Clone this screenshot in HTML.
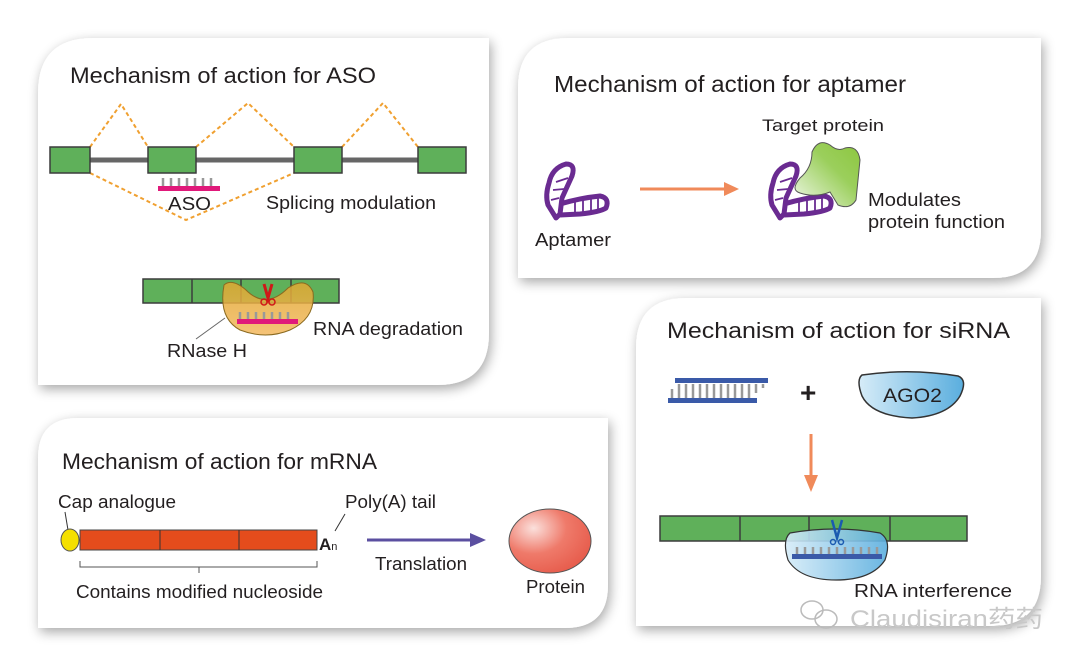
<!DOCTYPE html>
<html><head><meta charset="utf-8"><style>
html,body{margin:0;padding:0;background:#fff}
svg{display:block}
text{font-family:"Liberation Sans","Noto Sans CJK SC",sans-serif;fill:#231f20}
</style></head><body>
<svg width="1080" height="664" viewBox="0 0 1080 664" xmlns="http://www.w3.org/2000/svg">
<defs>
<filter id="sh" x="-10%" y="-10%" width="120%" height="125%"><feGaussianBlur in="SourceAlpha" stdDeviation="6"/><feOffset dx="2" dy="4"/><feComponentTransfer><feFuncA type="linear" slope="0.35"/></feComponentTransfer><feMerge><feMergeNode/><feMergeNode in="SourceGraphic"/></feMerge></filter>
<linearGradient id="og" x1="0" y1="0" x2="0" y2="1"><stop offset="0" stop-color="#e0a830"/><stop offset="1" stop-color="#f3b860"/></linearGradient>
<linearGradient id="bg" x1="0" y1="0" x2="1" y2="0"><stop offset="0" stop-color="#d6ecf8"/><stop offset="1" stop-color="#5aaede"/></linearGradient>
<linearGradient id="gg" x1="0" y1="1" x2="1" y2="0"><stop offset="0" stop-color="#f0f8e8"/><stop offset="0.6" stop-color="#9bcf5c"/><stop offset="1" stop-color="#8cc63f"/></linearGradient>
<radialGradient id="rg" cx="0.3" cy="0.3" r="0.8"><stop offset="0" stop-color="#fbe0dc"/><stop offset="0.5" stop-color="#ef7a6a"/><stop offset="1" stop-color="#e65a4a"/></radialGradient>
</defs>
<rect width="1080" height="664" fill="#fff"/>
<g filter="url(#sh)" fill="#fff">
<path d="M93 38 H489 V333 Q489 385 437 385 H38 V93 Q38 38 93 38Z"/>
<path d="M568 38 H1041 V230 Q1041 278 993 278 H518 V88 Q518 38 568 38Z"/>
<path d="M78 418 H608 V585 Q608 628 565 628 H38 V458 Q38 418 78 418Z"/>
<path d="M686 298 H1041 V576 Q1041 626 991 626 H636 V348 Q636 298 686 298Z"/>
</g>
<!-- ASO -->
<text x="70" y="83" font-size="22" textLength="306" lengthAdjust="spacingAndGlyphs">Mechanism of action for ASO</text>
<g stroke="#f0a030" stroke-width="2" stroke-dasharray="4 3" fill="none">
<polyline points="90,147 121,104 148,147"/><polyline points="196,147 248,103 294,147"/><polyline points="342,147 383,103 418,147"/>
<polyline points="90,173 186,220 294,173"/>
</g>
<line x1="50" y1="160" x2="466" y2="160" stroke="#666" stroke-width="5"/>
<g fill="#5fb05a" stroke="#3c3c3c" stroke-width="1.5">
<rect x="50" y="147" width="40" height="26"/><rect x="148" y="147" width="48" height="26"/><rect x="294" y="147" width="48" height="26"/><rect x="418" y="147" width="48" height="26"/>
</g>
<g stroke="#999" stroke-width="2.5"><path d="M163 178v8M171 178v8M179 178v8M187 178v8M195 178v8M203 178v8M211 178v8"/></g>
<rect x="158" y="186" width="62" height="5" fill="#e0197a"/>
<text x="168" y="210" font-size="18" textLength="43" lengthAdjust="spacingAndGlyphs">ASO</text>
<text x="266" y="209" font-size="18" textLength="170" lengthAdjust="spacingAndGlyphs">Splicing modulation</text>
<g fill="#5fb05a" stroke="#3c3c3c" stroke-width="1.5"><rect x="143" y="279" width="196" height="24"/></g>
<path d="M192 279v24M241 279v24M291 279v24" stroke="#3c3c3c" stroke-width="1.5"/>
<path d="M224 285 Q232 278 246 290 Q266 310 288 288 Q306 276 313 292 Q316 318 290 330 Q266 340 240 330 Q218 318 224 285Z" fill="url(#og)" fill-opacity="0.85" stroke="#8a6a20" stroke-width="1"/>
<g stroke="#999" stroke-width="2.5"><path d="M240 312v8M248 312v8M256 312v8M264 312v8M272 312v8M280 312v8M288 312v8"/></g>
<rect x="237" y="319" width="61" height="5" fill="#e0197a"/>
<path d="M264 284 L268 298 L272 284" stroke="#d01818" stroke-width="3" fill="none"/>
<circle cx="264" cy="302" r="3" fill="none" stroke="#d01818" stroke-width="1.5"/><circle cx="272" cy="302" r="3" fill="none" stroke="#d01818" stroke-width="1.5"/>
<line x1="196" y1="339" x2="225" y2="318" stroke="#666" stroke-width="1"/>
<text x="313" y="335" font-size="18" textLength="150" lengthAdjust="spacingAndGlyphs">RNA degradation</text>
<text x="167" y="357" font-size="18" textLength="80" lengthAdjust="spacingAndGlyphs">RNase H</text>
<!-- Aptamer -->
<text x="554" y="92" font-size="23" textLength="352" lengthAdjust="spacingAndGlyphs">Mechanism of action for aptamer</text>
<text x="762" y="131" font-size="17" textLength="122" lengthAdjust="spacingAndGlyphs">Target protein</text>
<g id="apt">
<path d="M549 183 Q552 168 566 164 Q576 164 572 176 L562 198 L560 214 L556 218 L548 205 Q545 195 549 183Z" fill="none" stroke="#6a2b91" stroke-width="5" stroke-linejoin="round"/>
<path d="M560 204 Q580 198 600 196 Q610 198 606 208 Q600 212 580 214 L560 215" fill="none" stroke="#6a2b91" stroke-width="5" stroke-linejoin="round"/>
<path d="M556 182 L568 178 M553 190 L564 189 M551 200 L559 198 M575 200 L575 212 M583 199 L583 212 M591 198 L591 211 M598 198 L598 209" stroke="#6a2b91" stroke-width="1.8"/>
</g>
<use href="#apt" transform="translate(224,0)"/>
<path d="M800 193 Q790 190 800 178 Q812 168 812 152 Q818 138 830 145 Q838 152 845 148 Q858 145 860 160 L856 200 Q850 210 838 205 L830 192 Q815 198 800 193Z" fill="url(#gg)" stroke="#555" stroke-width="1"/>
<text x="535" y="246" font-size="18" textLength="76" lengthAdjust="spacingAndGlyphs">Aptamer</text>
<line x1="640" y1="189" x2="727" y2="189" stroke="#f08a5a" stroke-width="3"/>
<path d="M724 182 L739 189 L724 196Z" fill="#f08a5a"/>
<text x="868" y="206" font-size="18" textLength="93" lengthAdjust="spacingAndGlyphs">Modulates</text>
<text x="868" y="228" font-size="18" textLength="137" lengthAdjust="spacingAndGlyphs">protein function</text>
<!-- mRNA -->
<text x="62" y="469" font-size="22" textLength="315" lengthAdjust="spacingAndGlyphs">Mechanism of action for mRNA</text>
<text x="58" y="508" font-size="18" textLength="118" lengthAdjust="spacingAndGlyphs">Cap analogue</text>
<line x1="65" y1="512" x2="68" y2="530" stroke="#333" stroke-width="1"/>
<ellipse cx="70" cy="540" rx="9" ry="11" fill="#f4e000" stroke="#555" stroke-width="1"/>
<rect x="80" y="530" width="237" height="20" fill="#e44c1c" stroke="#444" stroke-width="1"/>
<path d="M160 530v20M239 530v20" stroke="#333" stroke-width="1"/>
<text x="319" y="550" font-size="17" font-weight="bold">A<tspan font-size="11" font-weight="normal">n</tspan></text>
<line x1="335" y1="531" x2="345" y2="514" stroke="#333" stroke-width="1"/>
<text x="345" y="508" font-size="18" textLength="91" lengthAdjust="spacingAndGlyphs">Poly(A) tail</text>
<path d="M80 561v6H317v-6M199 567v6" stroke="#555" stroke-width="1" fill="none"/>
<text x="76" y="598" font-size="18" textLength="247" lengthAdjust="spacingAndGlyphs">Contains modified nucleoside</text>
<line x1="367" y1="540" x2="473" y2="540" stroke="#5b4fa0" stroke-width="3"/>
<path d="M470 533 L486 540 L470 547Z" fill="#5b4fa0"/>
<text x="375" y="570" font-size="18" textLength="92" lengthAdjust="spacingAndGlyphs">Translation</text>
<ellipse cx="550" cy="541" rx="41" ry="32" fill="url(#rg)" stroke="#555" stroke-width="1"/>
<text x="526" y="593" font-size="18" textLength="59" lengthAdjust="spacingAndGlyphs">Protein</text>
<!-- siRNA -->
<text x="667" y="338" font-size="22" textLength="343" lengthAdjust="spacingAndGlyphs">Mechanism of action for siRNA</text>
<g stroke="#999" stroke-width="2.5"><path d="M672 389v9M679 384v14M686 384v14M693 384v14M700 384v14M707 384v14M714 384v14M721 384v14M728 384v14M735 384v14M742 384v14M749 384v14M756 384v9M763 384v4"/></g>
<rect x="675" y="378" width="93" height="5" fill="#3a5aa8"/>
<rect x="668" y="398" width="89" height="5" fill="#3a5aa8"/>
<text x="800" y="402" font-size="28" font-weight="bold" fill="#444">+</text>
<path d="M862 375 Q910 368 958 376 Q968 380 960 396 Q948 416 912 418 Q872 416 862 396 Q856 380 862 375Z" fill="url(#bg)" stroke="#333" stroke-width="1.5"/>
<text x="883" y="402" font-size="19" textLength="59" lengthAdjust="spacingAndGlyphs">AGO2</text>
<line x1="811" y1="434" x2="811" y2="478" stroke="#f08a5a" stroke-width="3"/>
<path d="M804 475 L811 492 L818 475Z" fill="#f08a5a"/>
<rect x="660" y="516" width="307" height="25" fill="#5fb05a" stroke="#3c3c3c" stroke-width="1.5"/>
<path d="M740 516v25M809 516v25M890 516v25" stroke="#3c3c3c" stroke-width="1.5"/>
<path d="M790 533 Q835 525 880 533 Q892 540 885 560 Q872 580 836 580 Q800 580 788 560 Q782 540 790 533Z" fill="url(#bg)" fill-opacity="0.9" stroke="#333" stroke-width="1.2"/>
<g stroke="#999" stroke-width="2.5"><path d="M797 547v7M805 547v7M813 547v7M821 547v7M829 547v7M837 547v7M845 547v7M853 547v7M861 547v7M869 547v7M877 547v7"/></g>
<rect x="792" y="554" width="90" height="5" fill="#3a5aa8"/>
<path d="M832 520 L837 538 L842 520" stroke="#1a5ab0" stroke-width="2.5" fill="none"/>
<circle cx="833" cy="542" r="2.5" fill="none" stroke="#1a5ab0" stroke-width="1.5"/><circle cx="841" cy="542" r="2.5" fill="none" stroke="#1a5ab0" stroke-width="1.5"/>
<text x="854" y="597" font-size="18" textLength="158" lengthAdjust="spacingAndGlyphs">RNA interference</text>
<g fill="none" stroke="#bbb" stroke-width="1.5"><ellipse cx="812" cy="610" rx="11" ry="9"/><ellipse cx="826" cy="619" rx="11" ry="9"/></g>
<text x="850" y="627" font-size="24" style="fill:#c8c8c8" textLength="193" lengthAdjust="spacingAndGlyphs">Claudisiran药药</text>
</svg>
</body></html>
